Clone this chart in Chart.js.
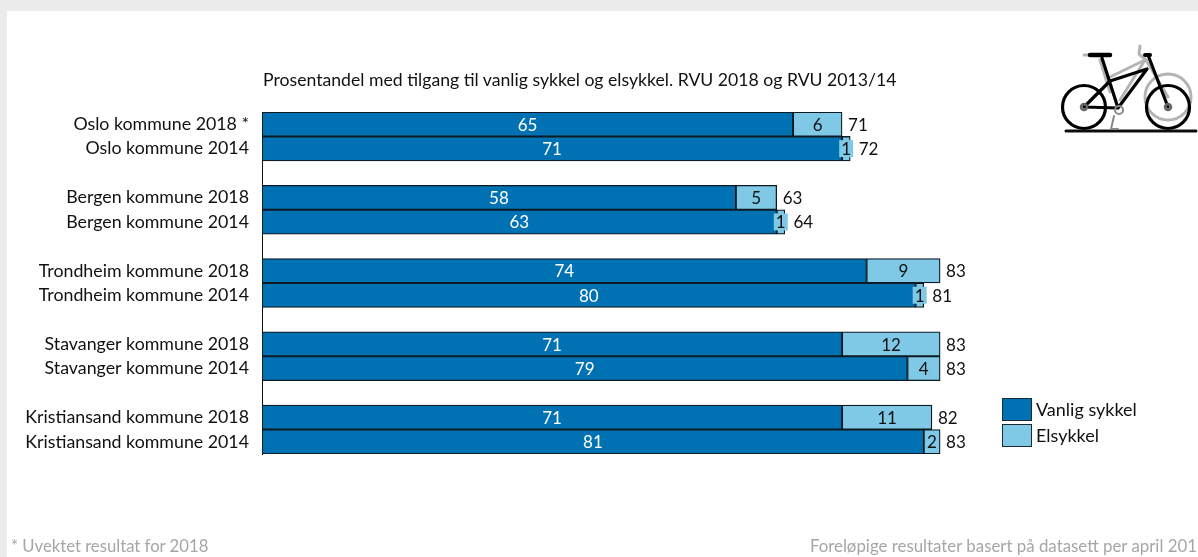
<!DOCTYPE html>
<html lang="no">
<head>
<meta charset="utf-8">
<title>Tilgang til sykkel</title>
<script src="https://cdn.jsdelivr.net/npm/chart.js@4/dist/chart.umd.min.js"></script>
<style>
    html, body { margin: 0; padding: 0; background: #ebebeb; overflow: hidden; }
    #page { position: absolute; left: 7px; top: 11px; width: 1191px; height: 546px; background: #fff; }
    #chart { position: absolute; left: 0; top: 0; }
    .txt { position: absolute; font-family: Lato, sans-serif; white-space: nowrap; color: #111; }
    #title { left: 263px; top: 69px; font-size: 17.65px; line-height: 22px; }
    #note { left: 11px; top: 536px; font-size: 16.7px; line-height: 20px; color: #a6a6a6; }
    #source { right: 1px; top: 536px; font-size: 16.85px; line-height: 20px; color: #a6a6a6; }
    .swatch { position: absolute; left: 1002px; width: 28px; box-sizing: content-box; border: 1px solid #1c2a33; }
    #bike { position: absolute; left: 1058px; top: 40px; }
</style>
</head>
<body>
<div id="page"></div>
<canvas id="chart" width="1198" height="557"></canvas>
<div class="txt" id="title">Prosentandel med tilgang til vanlig sykkel og elsykkel. RVU 2018 og RVU 2013/14</div>
<div class="txt" id="note">* Uvektet resultat for 2018</div>
<div class="txt" id="source">Foreløpige resultater basert på datasett per april 201</div>
<div id="legend"></div>

<svg id="bike" width="140" height="96" viewBox="1058 40 140 96">
    <defs>
        <filter id="soft" x="-10%" y="-10%" width="120%" height="120%"><feGaussianBlur stdDeviation="0.55"/></filter>
    </defs>
    <g filter="url(#soft)" fill="none" stroke-linecap="round" stroke-linejoin="round">
        <!-- ghost bike behind -->
        <g stroke="#b4b4b4" stroke-width="3">
            <circle cx="1168" cy="97" r="23"/>
            <path d="M1110 77 L1145 60 L1120 100"/>
            <path d="M1140 46 L1139 54 L1146 60"/>
            <path d="M1100 60 L1110 92"/>
            <path d="M1084 55 L1100 55"/>
            <path d="M1146 60 L1168 97"/>
        </g>
        <!-- main bike -->
        <g stroke="#050505" stroke-width="3.2">
            <circle cx="1084" cy="107" r="21.5"/>
            <circle cx="1168" cy="107" r="21.5"/>
            <path d="M1102 58 L1118 108 L1084 107 L1110 81 L1147 69 L1118 108"/>
            <path d="M1148 55 L1168 107"/>
        </g>
        <path d="M1090 55 L1110 55" stroke="#050505" stroke-width="4.5"/>
        <path d="M1145 55 L1150 55" stroke="#050505" stroke-width="4"/>
        <path d="M1066 131 L1196 131" stroke="#111" stroke-width="3"/>
        <circle cx="1084" cy="107" r="3" stroke="#666" stroke-width="2.5"/>
        <circle cx="1168" cy="107" r="3" stroke="#666" stroke-width="2.5"/>
        <circle cx="1119" cy="110" r="4" stroke="#888" stroke-width="2"/>
        <path d="M1114 116 L1111 129 M1111 129 L1118 129" stroke="#888" stroke-width="2"/>
    </g>
</svg>

<script>
// Rows, blank entries are the gaps between the municipalities
const categories = [
    'Oslo kommune 2018 *', 'Oslo kommune 2014', '',
    'Bergen kommune 2018', 'Bergen kommune 2014', '',
    'Trondheim kommune 2018', 'Trondheim kommune 2014', '',
    'Stavanger kommune 2018', 'Stavanger kommune 2014', '',
    'Kristiansand kommune 2018', 'Kristiansand kommune 2014'
];
const vanligSykkel = [65, 71, null, 58, 63, null, 74, 80, null, 71, 79, null, 71, 81];
const elsykkel = [6, 1, null, 5, 1, null, 9, 1, null, 12, 4, null, 11, 2];
const totals = [71, 72, null, 63, 64, null, 83, 81, null, 83, 83, null, 82, 83];
const seriesNames = ['Vanlig sykkel', 'Elsykkel'];

const DARK_BLUE = '#0071b3';
const LIGHT_BLUE = '#7fc8e6';
const BAR_BORDER = '#0f1a22';
const LABEL_FONT = '17px Lato, sans-serif';

// Value labels inside the segments and the total to the right of each bar
const barLabels = {
    id: 'barLabels',
    afterDatasetsDraw(chart) {
        const ctx = chart.ctx;
        ctx.save();
        ctx.font = LABEL_FONT;
        ctx.textBaseline = 'middle';

        chart.data.datasets.forEach((dataset, d) => {
            chart.getDatasetMeta(d).data.forEach((bar, i) => {
                const value = dataset.data[i];

                if (value === null) {
                    return;
                }

                const text = String(value);
                const left = bar.base;
                const right = bar.x;
                const center = (left + right) / 2;

                // Narrow segments get a backing box behind the number
                if (ctx.measureText(text).width + 4 > right - left) {
                    ctx.fillStyle = LIGHT_BLUE;
                    ctx.fillRect(center - 7, bar.y - 8.5, 14, 17);
                }

                ctx.textAlign = 'center';
                ctx.fillStyle = d === 0 ? '#ffffff' : '#111111';
                ctx.fillText(text, center, bar.y + 1);
            });
        });

        chart.getDatasetMeta(1).data.forEach((bar, i) => {
            if (totals[i] === null) {
                return;
            }

            // Totals move a little further out when the backing box is there
            const gap = elsykkel[i] === 1 ? 8.5 : 6;

            ctx.textAlign = 'left';
            ctx.fillStyle = '#111111';
            ctx.fillText(String(totals[i]), bar.x + gap, bar.y + 1);
        });

        ctx.restore();
    }
};

new Chart(document.getElementById('chart').getContext('2d'), {
    type: 'bar',

    data: {
        labels: categories,

        datasets: [
            {
                label: seriesNames[0],
                data: vanligSykkel,
                backgroundColor: DARK_BLUE,
                borderColor: BAR_BORDER,
                borderWidth: 1.3,
                borderSkipped: false
            },
            {
                label: seriesNames[1],
                data: elsykkel,
                backgroundColor: LIGHT_BLUE,
                borderColor: BAR_BORDER,
                borderWidth: 1.3,
                borderSkipped: false
            }
        ]
    },

    options: {
        indexAxis: 'y',
        responsive: false,
        animation: false,
        categoryPercentage: 1,
        barPercentage: 1,

        layout: {
            padding: { top: 112, bottom: 103, right: 119, left: 0 }
        },

        plugins: {
            legend: { display: false },
            tooltip: { enabled: false }
        },

        scales: {
            x: {
                display: false,
                stacked: true,
                min: 0,
                max: 100
            },

            y: {
                stacked: true,
                afterFit(scale) {
                    scale.width = 262;
                },
                grid: { display: false, drawTicks: false },
                border: { display: true, color: '#111111', width: 1 },
                ticks: {
                    color: '#111111',
                    padding: 13,
                    autoSkip: false,
                    font: { family: 'Lato, sans-serif', size: 17.8 }
                }
            }
        }
    },

    plugins: [barLabels]
});

// Legend sits outside the plot, next to the lowest bars
const legend = document.getElementById('legend');
const legendTops = [398, 424];
const legendColors = [DARK_BLUE, LIGHT_BLUE];

seriesNames.forEach((name, i) => {
    const swatch = document.createElement('div');
    swatch.className = 'swatch';
    swatch.style.top = `${legendTops[i]}px`;
    swatch.style.height = '21px';
    swatch.style.background = legendColors[i];
    legend.appendChild(swatch);

    const label = document.createElement('div');
    label.className = 'txt';
    label.textContent = name;
    label.style.left = '1036px';
    label.style.top = `${legendTops[i]}px`;
    label.style.fontSize = '18px';
    label.style.lineHeight = '22px';
    legend.appendChild(label);
});
</script>
</body>
</html>
